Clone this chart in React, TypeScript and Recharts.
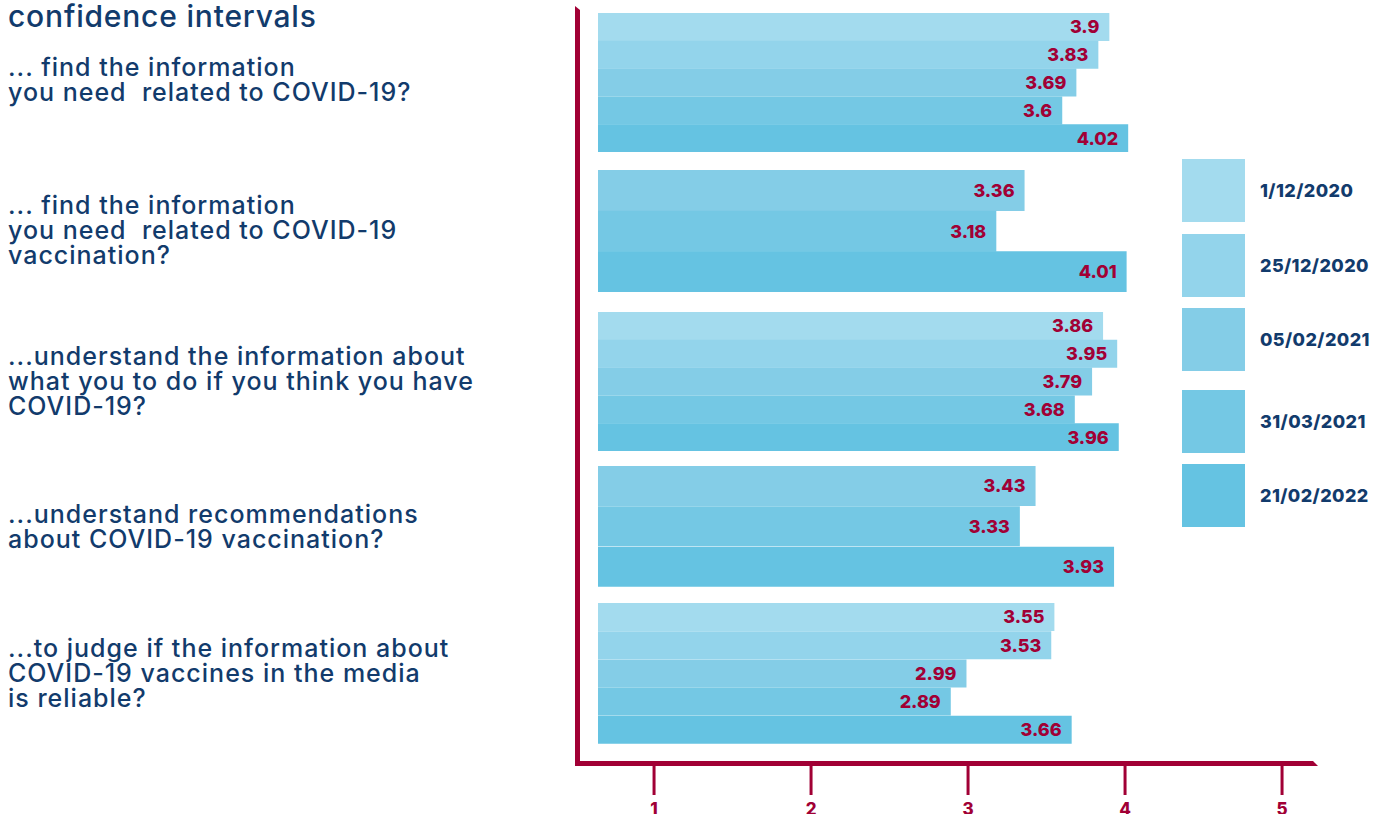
import React from 'react';
import { BarChart, Bar, XAxis, YAxis, Cell, LabelList } from 'recharts';

const dates = ['1/12/2020', '25/12/2020', '05/02/2021', '31/03/2021', '21/02/2022'];

const q1Values = [3.9, 3.83, 3.69, 3.6, 4.02];
const q2Values = [null, null, 3.36, 3.18, 4.01];
const q3Values = [3.86, 3.95, 3.79, 3.68, 3.96];
const q4Values = [null, null, 3.43, 3.33, 3.93];
const q5Values = [3.55, 3.53, 2.99, 2.89, 3.66];

const questionLines = [
  ['... find the information', 'you need  related to COVID-19?'],
  ['... find the information', 'you need  related to COVID-19', 'vaccination?'],
  ['...understand the information about', 'what you to do if you think you have', 'COVID-19?'],
  ['...understand recommendations', 'about COVID-19 vaccination?'],
  ['...to judge if the information about', 'COVID-19 vaccines in the media', 'is reliable?'],
];

const xTicks = [1, 2, 3, 4, 5];

const colors = ['#a3dbee', '#93d4eb', '#84cde7', '#74c8e4', '#65c3e2'];
const RED = '#a10035';
const NAVY = '#123b6c';
const FONT = 'Inter, "Open Sans", sans-serif';

// plot geometry shared by all group charts
const PLOT_LEFT = 598;
const PLOT_WIDTH = 740;
const DOMAIN: [number, number] = [0.643, 0.643 + PLOT_WIDTH / 157];

const groups = [
  { values: q1Values, top: 13, height: 139, textTop: 55 },
  { values: q2Values, top: 170, height: 122, textTop: 193 },
  { values: q3Values, top: 312, height: 139, textTop: 344 },
  { values: q4Values, top: 466, height: 121, textTop: 502 },
  { values: q5Values, top: 603, height: 141, textTop: 636 },
];

const legendTops = [159, 234, 308, 390, 464];

const AXIS_H = 72;

const AxisTick = (props: any) => {
  const { x, y, payload } = props;
  return (
    <g>
      <line x1={x} x2={x} y1={y + 22} y2={y + 51} stroke={RED} strokeWidth={3} />
      <text
        x={x}
        y={y + 71}
        textAnchor="middle"
        fill={RED}
        fontSize={17}
        fontWeight={800}
        fontFamily={FONT}
      >
        {payload.value}
      </text>
    </g>
  );
};

function GroupChart({ values, height, withAxis }: { values: (number | null)[]; height: number; withAxis: boolean }) {
  const data = dates
    .map((date, i) => ({ date, value: values[i], color: colors[i] }))
    .filter((d) => d.value !== null);

  return (
    <BarChart
      width={PLOT_WIDTH}
      height={height + (withAxis ? AXIS_H : 0)}
      data={data}
      layout="vertical"
      margin={{ top: 0, right: 0, bottom: 0, left: 0 }}
      barCategoryGap={0}
    >
      <XAxis
        type="number"
        domain={DOMAIN}
        ticks={xTicks}
        hide={!withAxis}
        height={AXIS_H}
        axisLine={false}
        tickLine={false}
        tickSize={0}
        tickMargin={0}
        tick={<AxisTick />}
        allowDataOverflow
      />
      <YAxis type="category" dataKey="date" hide />
      <Bar dataKey="value" isAnimationActive={false}>
        {data.map((d) => (
          <Cell key={d.date} fill={d.color} />
        ))}
        <LabelList
          dataKey="value"
          position="insideRight"
          offset={10}
          fill={RED}
          fontSize={18}
          fontWeight={800}
          fontFamily={FONT}
        />
      </Bar>
    </BarChart>
  );
}

export default function App() {
  return (
    <div
      style={{
        position: 'absolute',
        left: 0,
        top: 0,
        width: 1387,
        height: 814,
        overflow: 'hidden',
        background: '#fff',
        fontFamily: FONT,
        color: NAVY,
      }}
    >
      <div
        style={{
          position: 'absolute',
          left: 8,
          top: 0,
          fontSize: 30,
          fontWeight: 500,
          lineHeight: '32px',
          letterSpacing: 0.8,
        }}
      >
        confidence intervals
      </div>

      {groups.map((g, i) => (
        <div
          key={'q' + i}
          style={{
            position: 'absolute',
            left: 8,
            top: g.textTop,
            fontSize: 25,
            fontWeight: 500,
            lineHeight: '25px',
            letterSpacing: 1.0,
          }}
        >
          {questionLines[i].map((line) => (
            <div key={line} style={{ whiteSpace: 'pre' }}>
              {line}
            </div>
          ))}
        </div>
      ))}

      {/* red frame of the axes */}
      <svg style={{ position: 'absolute', left: 0, top: 0 }} width={1387} height={814}>
        <polygon points="575,6 580,10 580,761 1313,761 1318,766 575,766" fill={RED} />
      </svg>

      {groups.map((g, i) => (
        <div key={'g' + i} style={{ position: 'absolute', left: PLOT_LEFT, top: g.top }}>
          <GroupChart values={g.values} height={g.height} withAxis={i === groups.length - 1} />
        </div>
      ))}

      {dates.map((d, i) => (
        <div
          key={d}
          style={{ position: 'absolute', left: 1182, top: legendTops[i], display: 'flex', alignItems: 'center' }}
        >
          <div style={{ width: 63, height: 63, background: colors[i] }} />
          <div style={{ marginLeft: 15, fontSize: 18, fontWeight: 800, letterSpacing: 0.4 }}>{d}</div>
        </div>
      ))}
    </div>
  );
}
